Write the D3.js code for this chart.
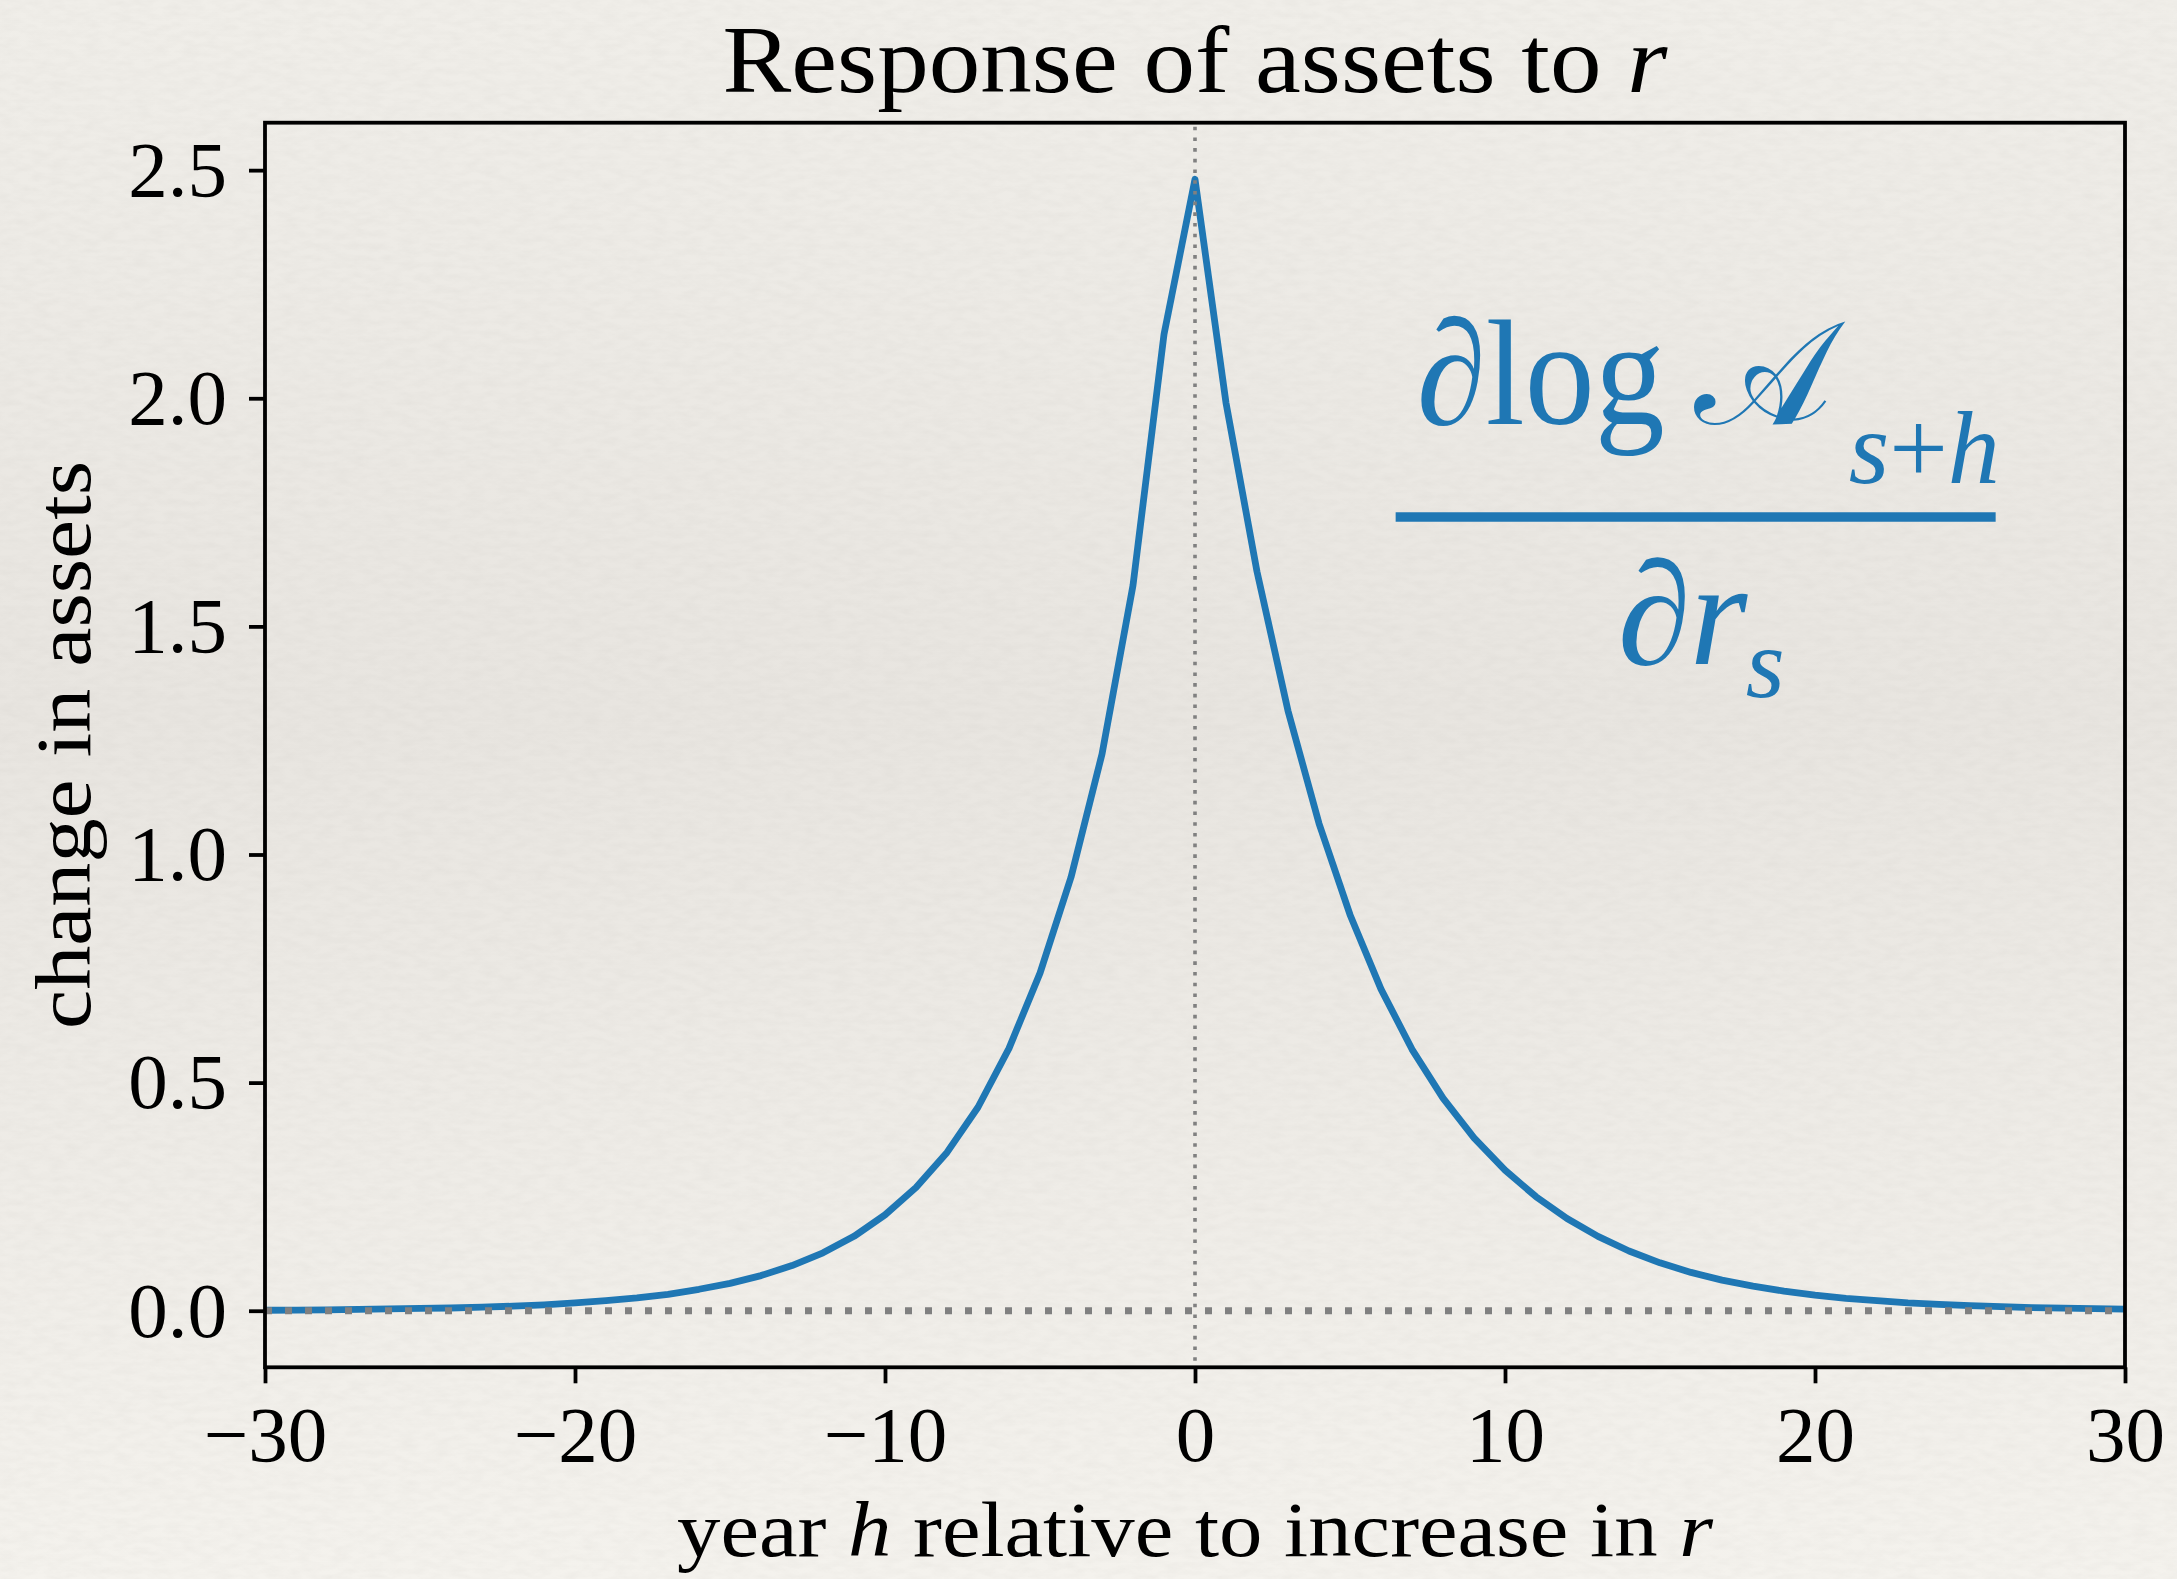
<!DOCTYPE html>
<html>
<head>
<meta charset="utf-8">
<script src="https://cdn.jsdelivr.net/npm/d3@7"></script>
<style>
  html, body { margin: 0; padding: 0; background: #eeebe6; }
  svg { display: block; }
</style>
</head>
<body>
<svg id="chart" width="2177" height="1579"></svg>
<script>
// ---------------- data ----------------
const hYears = [-30,-29,-28,-27,-26,-25,-24,-23,-22,-21,-20,-19,-18,-17,-16,-15,-14,-13,-12,-11,
                -10,-9,-8,-7,-6,-5,-4,-3,-2,-1,0,1,2,3,4,5,6,7,8,9,10,
                11,12,13,14,15,16,17,18,19,20,21,22,23,24,25,26,27,28,29,30];
const assetResponse = [0.001,0.0015,0.002,0.003,0.004,0.005,0.006,0.008,0.010,0.013,
                       0.017,0.022,0.028,0.036,0.047,0.060,0.077,0.099,0.127,0.163,
                       0.210,0.270,0.347,0.446,0.575,0.740,0.950,1.220,1.590,2.140,
                       2.480,
                       1.990,1.620,1.315,1.068,0.868,0.705,0.573,0.466,0.379,0.308,
                       0.250,0.202,0.163,0.131,0.105,0.084,0.067,0.054,0.043,0.034,
                       0.027,0.022,0.017,0.014,0.011,0.009,0.007,0.0055,0.0045,0.0035];
const xTickValues = [-30,-20,-10,0,10,20,30];
const yTickValues = [0.0,0.5,1.0,1.5,2.0,2.5];
const xDomain = [-30, 30];
const titleMain = "Response of assets to ";
const titleVar = "r";
const xLabelParts = [["year ", false], ["h", true], [" relative to increase in ", false], ["r", true]];
const yLabel = "change in assets";
// annotation anchor (data coords of the fraction bar centre)
const annotAnchor = [16.15, 1.74];

// ---------------- layout ----------------
const W = 2177, H = 1579;
const M = { left: 265, right: 2125, top: 122.7, bottom: 1367.3 };
const FONT = "'Liberation Serif', 'Times New Roman', serif";
const BLUE = "#1f77b4";

const svg = d3.select("#chart");
const defs = svg.append("defs");

// paper background
const grad = defs.append("linearGradient").attr("id", "bg")
  .attr("x1", 0).attr("y1", 0).attr("x2", 0).attr("y2", 1);
grad.append("stop").attr("offset", "0%").attr("stop-color", "#f0eee9");
grad.append("stop").attr("offset", "45%").attr("stop-color", "#e8e5e0");
grad.append("stop").attr("offset", "100%").attr("stop-color", "#f4f2ed");

const filt = defs.append("filter").attr("id", "paper")
  .attr("x", 0).attr("y", 0).attr("width", "100%").attr("height", "100%");
filt.append("feTurbulence").attr("type", "fractalNoise")
  .attr("baseFrequency", "0.06 0.16").attr("numOctaves", 3).attr("seed", 7);
filt.append("feColorMatrix").attr("type", "matrix")
  .attr("values", "0 0 0 0 0.42  0 0 0 0 0.40  0 0 0 0 0.37  0.14 0 0 0 -0.045");

svg.append("rect").attr("width", W).attr("height", H).attr("fill", "url(#bg)");
svg.append("rect").attr("width", W).attr("height", H).attr("filter", "url(#paper)");

// scales
const x = d3.scaleLinear().domain(xDomain).range([M.left, M.right]);
const lo = Math.min(0, d3.min(assetResponse)), hi = d3.max(assetResponse);
const pad = (hi - lo) * 0.05;
const y = d3.scaleLinear().domain([lo - pad, hi + pad]).range([M.bottom, M.top]);

// clip
defs.append("clipPath").attr("id", "plotclip").append("rect")
  .attr("x", M.left).attr("y", M.top)
  .attr("width", M.right - M.left).attr("height", M.bottom - M.top);

// curve
const data = hYears.map((h, i) => ({ h, v: assetResponse[i] }));
const line = d3.line().x(d => x(d.h)).y(d => y(d.v));
svg.append("path").datum(data)
  .attr("clip-path", "url(#plotclip)")
  .attr("d", line)
  .attr("fill", "none")
  .attr("stroke", BLUE)
  .attr("stroke-width", 6.8)
  .attr("stroke-linejoin", "round");

// dotted reference lines (drawn on top)
const g0 = svg.append("g").attr("clip-path", "url(#plotclip)");
g0.append("line")
  .attr("x1", M.left).attr("x2", M.right)
  .attr("y1", y(0)).attr("y2", y(0))
  .attr("stroke", "#808080").attr("stroke-width", 7)
  .attr("stroke-dasharray", "7,13");
g0.append("line")
  .attr("x1", x(0)).attr("x2", x(0))
  .attr("y1", M.top + 4).attr("y2", M.bottom)
  .attr("stroke", "#808080").attr("stroke-width", 3.6)
  .attr("stroke-dasharray", "3.6,7.1");

// axes
const gx = svg.append("g").attr("transform", `translate(0,${M.bottom})`)
  .call(d3.axisBottom(x).tickValues(xTickValues).tickSize(16).tickPadding(22).tickSizeOuter(0));
const gy = svg.append("g").attr("transform", `translate(${M.left},0)`)
  .call(d3.axisLeft(y).tickValues(yTickValues).tickFormat(d3.format(".1f"))
        .tickSize(16).tickPadding(22).tickSizeOuter(0));
[gx, gy].forEach(g => {
  g.select(".domain").remove();
  g.selectAll(".tick line").attr("stroke", "#000").attr("stroke-width", 3.8);
  g.selectAll(".tick text").attr("fill", "#000")
    .attr("font-family", FONT).attr("font-size", 79);
});

// frame
svg.append("rect")
  .attr("x", M.left).attr("y", M.top)
  .attr("width", M.right - M.left).attr("height", M.bottom - M.top)
  .attr("fill", "none").attr("stroke", "#000").attr("stroke-width", 3.8);

// title
const cx = (M.left + M.right) / 2;
const title = svg.append("text")
  .attr("x", cx).attr("y", 92)
  .attr("text-anchor", "middle")
  .attr("font-family", FONT).attr("font-size", 95).attr("fill", "#000")
  .attr("textLength", 945).attr("lengthAdjust", "spacingAndGlyphs");
title.append("tspan").text(titleMain);
title.append("tspan").attr("font-style", "italic").text(titleVar);

// x label
const xl = svg.append("text")
  .attr("x", cx).attr("y", 1556)
  .attr("text-anchor", "middle")
  .attr("font-family", FONT).attr("font-size", 79).attr("fill", "#000")
  .attr("textLength", 1036).attr("lengthAdjust", "spacingAndGlyphs");
xLabelParts.forEach(([t, it]) => {
  const ts = xl.append("tspan").text(t);
  if (it) ts.attr("font-style", "italic");
});

// y label
svg.append("text")
  .attr("transform", `translate(90,${(M.top + M.bottom) / 2}) rotate(-90)`)
  .attr("text-anchor", "middle")
  .attr("font-family", FONT).attr("font-size", 79).attr("fill", "#000")
  .attr("textLength", 568).attr("lengthAdjust", "spacingAndGlyphs")
  .text(yLabel);

// annotation: d log A_{s+h} / d r_s
const ax = x(annotAnchor[0]), ay = y(annotAnchor[1]);
const ann = svg.append("g").attr("fill", BLUE).attr("font-family", FONT);
ann.append("text").attr("x", ax - 279).attr("y", ay - 93)
  .attr("font-size", 150).attr("textLength", 248).attr("lengthAdjust", "spacingAndGlyphs")
  .text("\u2202log");
const scriptA = ann.append("text").attr("x", ax - 2).attr("y", ay - 93)
  .attr("font-size", 146)
  .attr("font-family", "'DejaVu Serif', 'DejaVu Sans', 'Noto Sans', serif")
  .text("\uD835\uDC9C");
let aRight = ax + 122;
try {
  const bb = scriptA.node().getBBox();
  aRight = Math.max(aRight, bb.x + bb.width + 3);
} catch (e) {}
const sub = ann.append("text").attr("x", aRight).attr("y", ay - 34)
  .attr("font-size", 104);
sub.append("tspan").attr("font-style", "italic").text("s");
sub.append("tspan").text("+");
sub.append("tspan").attr("font-style", "italic").text("h");
ann.append("line")
  .attr("x1", ax - 300).attr("x2", ax + 300)
  .attr("y1", ay).attr("y2", ay)
  .attr("stroke", BLUE).attr("stroke-width", 9.5);
const den = ann.append("text").attr("font-size", 148);
den.append("tspan").attr("x", ax - 78).attr("y", ay + 147).text("\u2202");
den.append("tspan").attr("x", ax - 6).attr("y", ay + 147)
  .attr("font-style", "italic").text("r");
den.append("tspan").attr("x", ax + 50).attr("y", ay + 180)
  .attr("font-size", 100).attr("font-style", "italic").text("s");
</script>
</body>
</html>
